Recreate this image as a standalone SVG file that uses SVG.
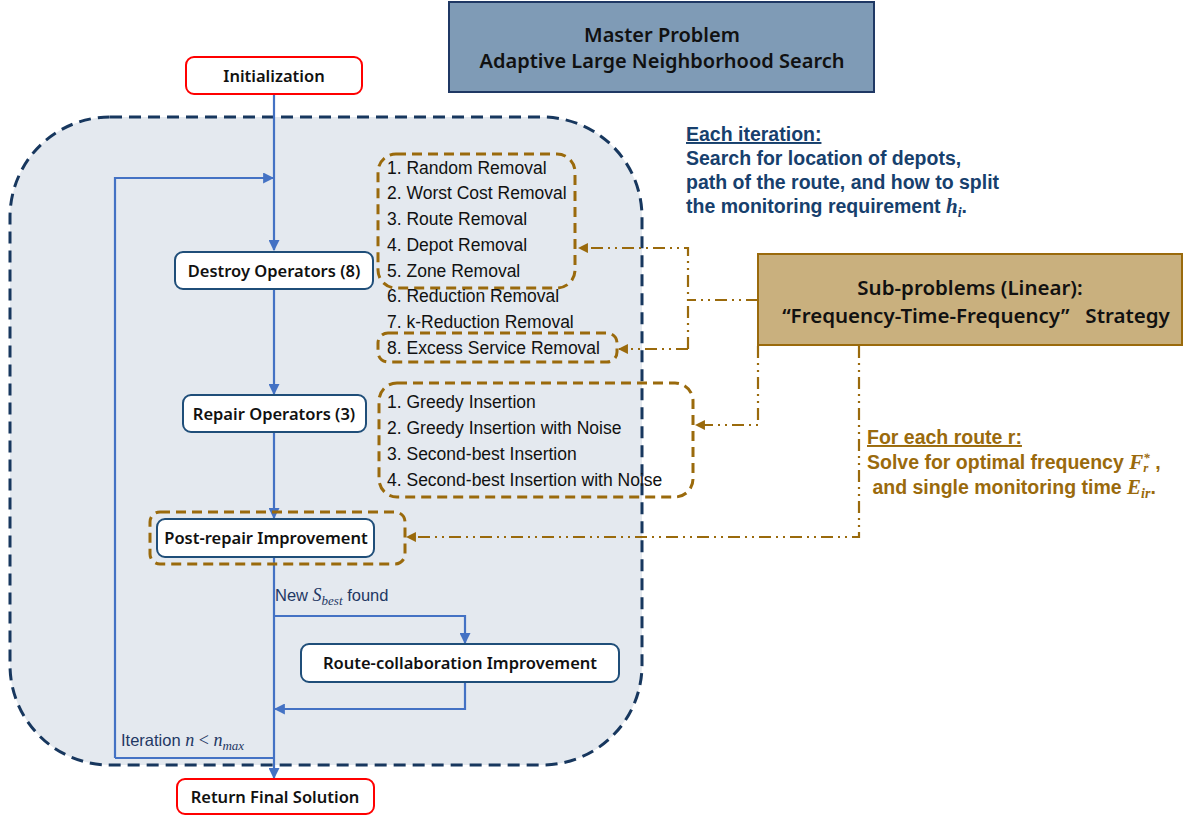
<svg xmlns="http://www.w3.org/2000/svg" width="1185" height="816" viewBox="0 0 1185 816">
<defs>
<marker id="ab" viewBox="0 0 10 10" refX="9" refY="5" markerWidth="5" markerHeight="5" orient="auto"><path d="M0,0 L10,5 L0,10 z" fill="#4472c4"/></marker>
<marker id="ao" viewBox="0 0 10 10" refX="9" refY="5" markerWidth="4.5" markerHeight="4.5" orient="auto"><path d="M0,0 L10,5 L0,10 z" fill="#9a6a0c"/></marker>
<style>
.box{fill:#fff;stroke:#1f4e79;stroke-width:2}
.red{fill:#fff;stroke:#ff0000;stroke-width:2}
.bt{font-family:"Noto Sans","Open Sans",sans-serif;font-size:16.5px;font-weight:600;fill:#111;text-anchor:middle}
.lt{font-family:"Liberation Sans",Arial,sans-serif;font-size:17.5px;fill:#111}
.bl{stroke:#4472c4;stroke-width:2.2;fill:none}
.br{stroke:#9a6a0c;stroke-width:2.2;fill:none;stroke-dasharray:12 5 2 5 2 5}
.bd{stroke:#9a6a0c;stroke-width:3;fill:none;stroke-dasharray:10 6}
.nv{font-family:"Liberation Sans",Arial,sans-serif;font-size:19.5px;font-weight:bold;fill:#17406d}
.bn{font-family:"Liberation Sans",Arial,sans-serif;font-size:19.5px;font-weight:bold;fill:#9a6a0c}
.lb{font-family:"Liberation Sans",Arial,sans-serif;font-size:16.5px;fill:#1f3864}
.m{font-family:"Liberation Serif","DejaVu Serif",serif;font-style:italic}
</style>
</defs>
<g id="container">
<rect x="10" y="117" width="632" height="648" rx="100" ry="100" fill="#e4e9ef" stroke="#17375e" stroke-width="3" stroke-dasharray="12 7"/>
</g>
<g id="master">
<rect x="449" y="2" width="425" height="90" fill="#7f9bb6" stroke="#1f3864" stroke-width="2"/>
<text x="662" y="42" font-family="Noto Sans,sans-serif" font-size="20" font-weight="600" fill="#111" text-anchor="middle">Master Problem</text>
<text x="662" y="68" font-family="Noto Sans,sans-serif" font-size="20" font-weight="600" fill="#111" text-anchor="middle">Adaptive Large Neighborhood Search</text>
</g>
<g id="connectors">
<path class="bl" d="M274,94 V250" marker-end="url(#ab)"/>
<path class="bl" d="M115,758 V178 H273" marker-end="url(#ab)"/>
<path class="bl" d="M274,289 V394" marker-end="url(#ab)"/>
<path class="bl" d="M274,432 V518" marker-end="url(#ab)"/>
<path class="bl" d="M274,557 V778" marker-end="url(#ab)"/>
<path class="bl" d="M115,758 H274"/>
<path class="bl" d="M274,616 H465 V643" marker-end="url(#ab)"/>
<path class="bl" d="M465,682 V709 H275" marker-end="url(#ab)"/>
<path class="br" d="M758,300 H688"/>
<path class="br" d="M688,349 V248 H579" marker-end="url(#ao)"/>
<path class="br" d="M688,349 H619" marker-end="url(#ao)"/>
<path class="br" d="M758,346 V425 H696" marker-end="url(#ao)"/>
<path class="br" d="M859,346 V537 H407" marker-end="url(#ao)"/>
</g>
<g id="init">
<rect class="red" x="186" y="57" width="176" height="37" rx="8"/>
<text class="bt" x="274" y="82">Initialization</text>
</g>
<g id="destroy">
<rect class="box" x="175" y="252" width="198" height="37" rx="8"/>
<text class="bt" x="274" y="277">Destroy Operators (8)</text>
</g>
<g id="destroy-list">
<rect class="bd" x="378" y="154" width="197" height="134" rx="18"/>
<rect class="bd" x="378" y="333" width="239" height="29" rx="10"/>
<text class="lt" x="387" y="174">1. Random Removal</text>
<text class="lt" x="387" y="199">2. Worst Cost Removal</text>
<text class="lt" x="387" y="225">3. Route Removal</text>
<text class="lt" x="387" y="251">4. Depot Removal</text>
<text class="lt" x="387" y="277">5. Zone Removal</text>
<text class="lt" x="387" y="302">6. Reduction Removal</text>
<text class="lt" x="387" y="328">7. k-Reduction Removal</text>
<text class="lt" x="387" y="354">8. Excess Service Removal</text>
</g>
<g id="repair">
<rect class="box" x="183" y="395" width="183" height="37" rx="8"/>
<text class="bt" x="274" y="420">Repair Operators (3)</text>
</g>
<g id="repair-list">
<rect class="bd" x="379" y="383" width="314" height="114" rx="18"/>
<text class="lt" x="387" y="408">1. Greedy Insertion</text>
<text class="lt" x="387" y="434">2. Greedy Insertion with Noise</text>
<text class="lt" x="387" y="460">3. Second-best Insertion</text>
<text class="lt" x="387" y="486">4. Second-best Insertion with Noise</text>
</g>
<g id="postrepair">
<rect class="bd" x="150" y="512" width="255" height="52" rx="10"/>
<rect class="box" x="157" y="519" width="217" height="38" rx="8"/>
<text class="bt" x="266" y="544">Post-repair Improvement</text>
</g>
<g id="routecollab">
<rect class="box" x="301" y="644" width="318" height="38" rx="8"/>
<text class="bt" x="460" y="669">Route-collaboration Improvement</text>
</g>
<g id="return">
<rect class="red" x="177" y="779" width="197" height="35" rx="8"/>
<text class="bt" x="275" y="803">Return Final Solution</text>
</g>
<g id="labels">
<text class="lb" x="275" y="601">New <tspan class="m" font-size="18">S</tspan><tspan class="m" font-size="13" dy="4">best</tspan><tspan dy="-4"> found</tspan></text>
<text class="lb" x="121" y="746">Iteration <tspan class="m" font-size="18">n</tspan><tspan font-family="Liberation Serif,serif" font-size="18"> &lt; </tspan><tspan class="m" font-size="18">n</tspan><tspan class="m" font-size="13" dy="4">max</tspan></text>
</g>
<g id="subproblems">
<rect x="758" y="254" width="424" height="91" fill="#c9b07e" stroke="#9a6a0c" stroke-width="2"/>
<text x="970" y="295" font-family="Noto Sans,sans-serif" font-size="20.5" font-weight="600" fill="#111" text-anchor="middle">Sub-problems (Linear):</text>
<text x="976" y="323" font-family="Noto Sans,sans-serif" font-size="20.5" font-weight="600" fill="#111" text-anchor="middle" xml:space="preserve">“Frequency-Time-Frequency”   Strategy</text>
</g>
<g id="note-iteration">
<text class="nv" x="686" y="141" text-decoration="underline">Each iteration:</text>
<text class="nv" x="686" y="165">Search for location of depots,</text>
<text class="nv" x="686" y="189">path of the route, and how to split</text>
<text class="nv" x="686" y="213">the monitoring requirement <tspan class="m" font-size="21">h</tspan><tspan class="m" font-size="14" dy="4">i</tspan><tspan dy="-4">.</tspan></text>
</g>
<g id="note-route">
<text class="bn" x="867" y="444" text-decoration="underline">For each route r:</text>
<text class="bn" x="867" y="469">Solve for optimal frequency <tspan class="m" font-size="21">F</tspan><tspan class="m" font-size="13" dy="3">r</tspan><tspan class="m" font-size="13" dx="-5" dy="-10">*</tspan><tspan dy="7"> ,</tspan></text>
<text class="bn" x="867" y="494" xml:space="preserve"> and single monitoring time <tspan class="m" font-size="21">E</tspan><tspan class="m" font-size="14" dy="4">ir</tspan><tspan dy="-4">.</tspan></text>
</g>
</svg>
